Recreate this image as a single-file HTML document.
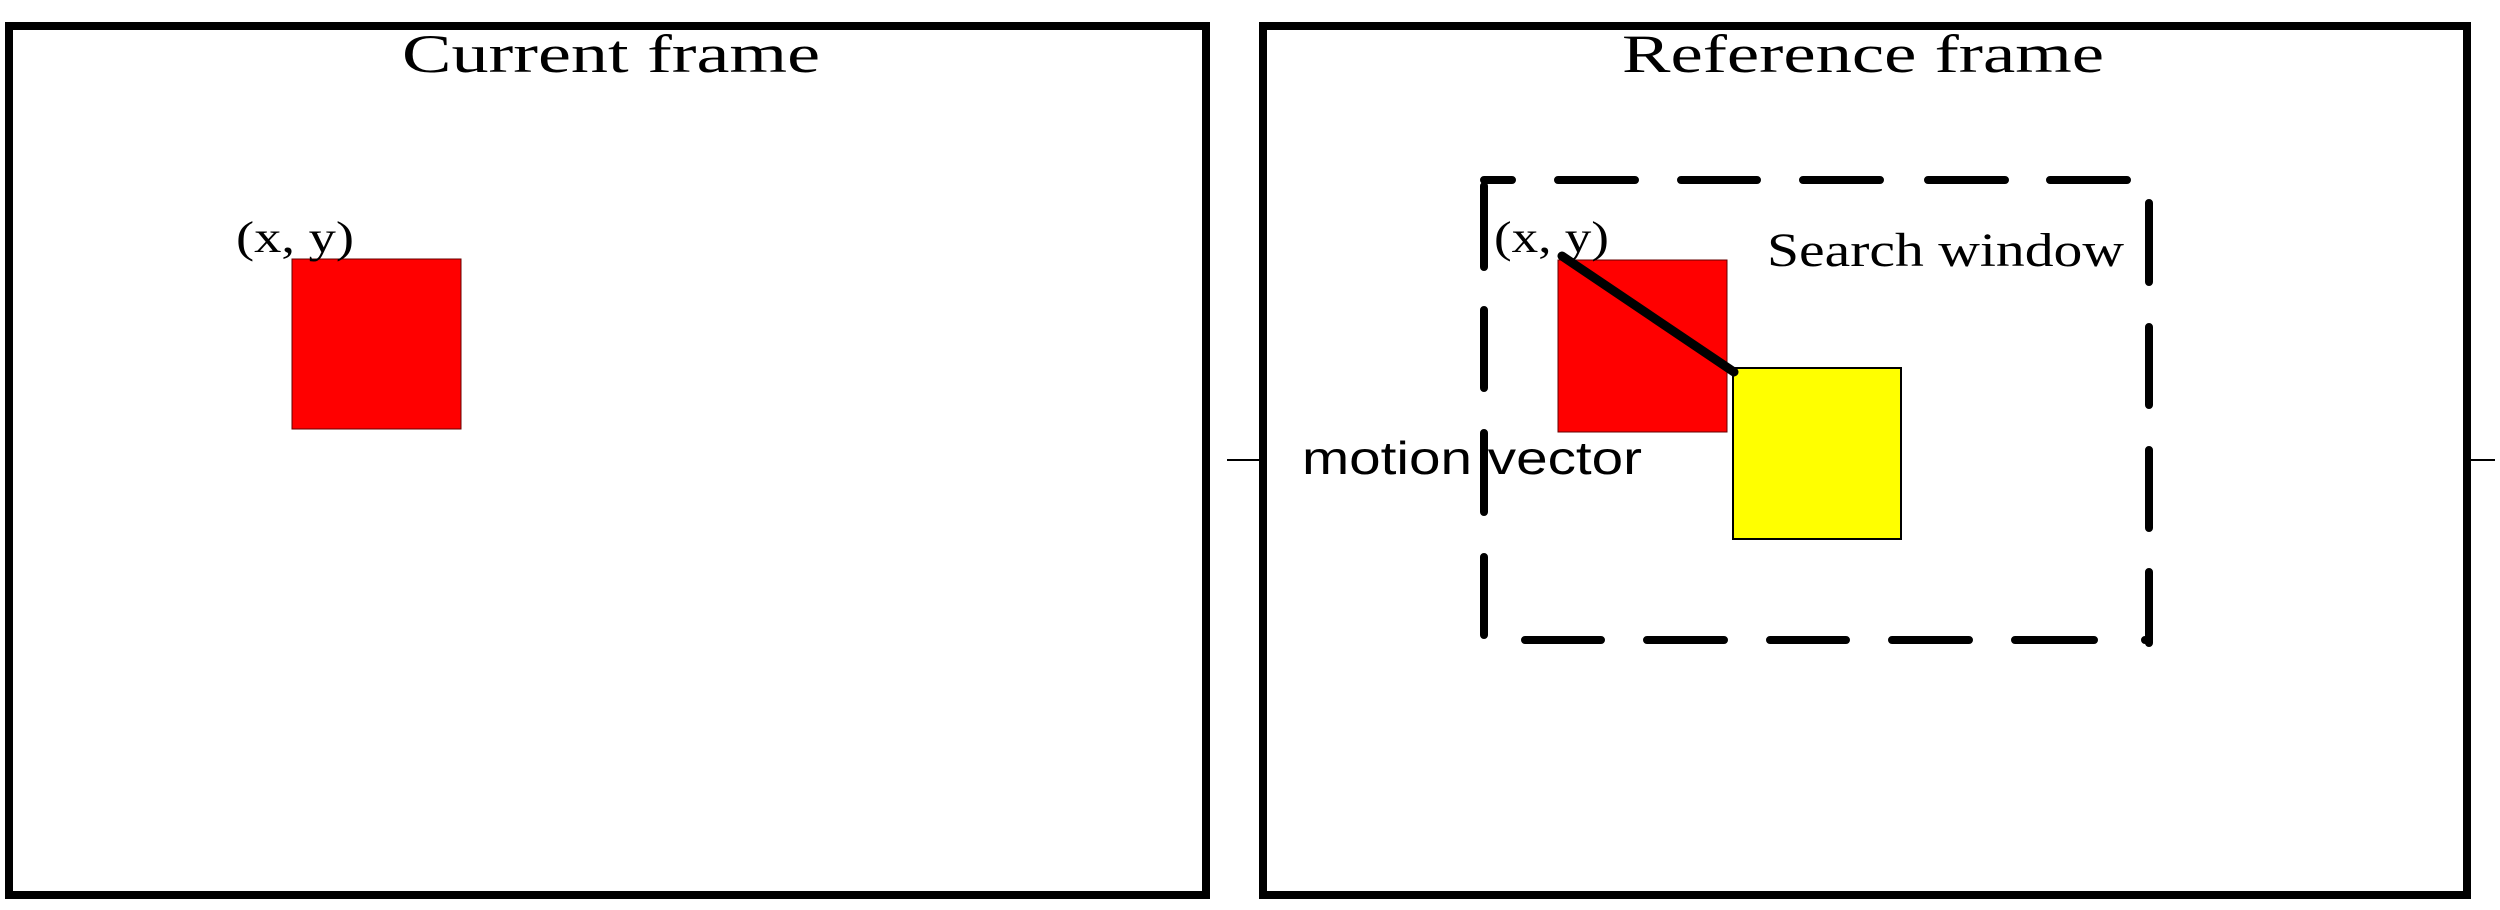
<!DOCTYPE html>
<html><head><meta charset="utf-8"><style>html,body{margin:0;padding:0;background:#fff;width:2500px;height:910px;overflow:hidden}</style></head>
<body>
<svg width="2500" height="910" viewBox="0 0 2500 910" xmlns="http://www.w3.org/2000/svg">
<rect width="2500" height="910" fill="#fff"/>
<rect x="9" y="26" width="1197" height="869" fill="none" stroke="#000" stroke-width="8"/>
<rect x="1263" y="26" width="1204" height="869" fill="none" stroke="#000" stroke-width="8"/>
<line x1="1227" y1="460" x2="1259" y2="460" stroke="#000" stroke-width="2"/>
<line x1="2467" y1="460" x2="2495" y2="460" stroke="#000" stroke-width="2"/>
<text x="402" y="72" font-family="Liberation Serif, serif" font-size="54" textLength="418" lengthAdjust="spacingAndGlyphs">Current frame</text>
<text x="1622" y="72" font-family="Liberation Serif, serif" font-size="54" textLength="482" lengthAdjust="spacingAndGlyphs">Reference frame</text>
<rect x="292" y="259" width="169" height="170" fill="#f00" stroke="#600" stroke-width="1"/>
<text x="236" y="252" font-family="Liberation Serif, serif" font-size="44" textLength="118" lengthAdjust="spacingAndGlyphs">(x, y)</text>
<g stroke="#000" stroke-width="8" stroke-linecap="round" fill="none">
<path d="M1484 180H1512M1558 180H1635M1681 180H1757M1803 180H1880M1928 180H2005M2050 180H2127"/>
<path d="M1525 640H1601M1647 640H1724M1770 640H1846M1892 640H1969M2015 640H2094M2145 640H2149"/>
<path d="M1484 186V267M1484 310V388M1484 433V512M1484 557V635"/>
<path d="M2149 203V282M2149 327V405M2149 450V528M2149 572V643"/>
</g>
<rect x="1558" y="260" width="169" height="172" fill="#f00" stroke="#600" stroke-width="1"/>
<rect x="1733" y="368" width="168" height="171" fill="#ff0" stroke="#000" stroke-width="2"/>
<line x1="1562" y1="256" x2="1734" y2="372" stroke="#000" stroke-width="9" stroke-linecap="round"/>
<text x="1494" y="252" font-family="Liberation Serif, serif" font-size="44" textLength="115" lengthAdjust="spacingAndGlyphs">(x, y)</text>
<text x="1767" y="266" font-family="Liberation Serif, serif" font-size="48" textLength="357" lengthAdjust="spacingAndGlyphs">Search window</text>
<text x="1302" y="474" font-family="Liberation Sans, sans-serif" font-size="46" textLength="340" lengthAdjust="spacingAndGlyphs">motion vector</text>
</svg>
</body></html>
